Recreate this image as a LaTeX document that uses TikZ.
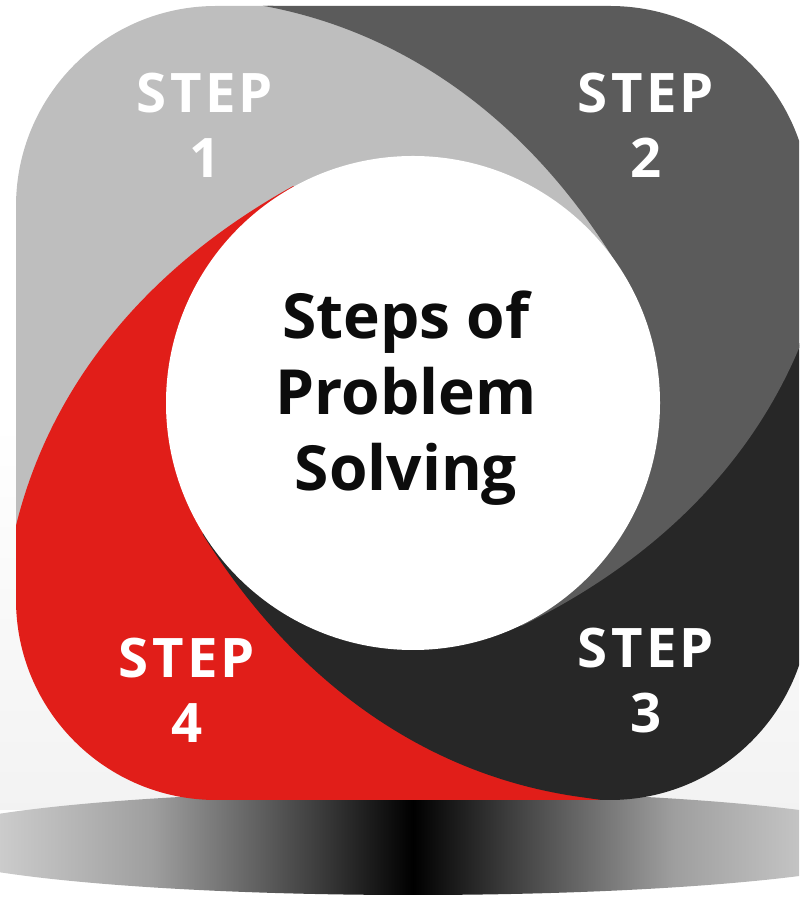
\documentclass[tikz,border=0pt]{standalone}
\usepackage{fontspec}
\setmainfont{Open Sans}
\usetikzlibrary{calc}
\definecolor{swgray}{RGB}{190,190,190}
\definecolor{swdark}{RGB}{91,91,91}
\definecolor{swblack}{RGB}{39,39,39}
\definecolor{swred}{RGB}{225,30,25}
\definecolor{swtext}{RGB}{12,12,12}

% floor shadow: dark in the middle, fading out to both sides
\pgfdeclarehorizontalshading{floorshade}{100bp}{color(0bp)=(black!10); color(25bp)=(black!10);
  color(37bp)=(black!38); color(45bp)=(black!75); color(50bp)=(black);
  color(55bp)=(black!75); color(63bp)=(black!38); color(75bp)=(black!10); color(100bp)=(black!10)}

% one blade of the swirl: inner arc from #1 to #2, out along the curve
% that leaves the disc at #2, round the far side, back in along the curve at #1
\newcommand{\bladepath}[2]{%
  ($(C)+(#1:247)$) arc[start angle=#1, end angle=#2, radius=247]
  .. controls ($(C)+(#2:247)+({#2+90}:180)$) and ($(C)+({#2+81}:427)+({#2-40}:150)$) .. ($(C)+({#2+81}:427)$)
  -- ($(C)+({#2+81}:427)+({#2+140}:250)$)
  -- ($(C)+({#2+100}:900)$) -- ($(C)+({#1+100}:900)$)
  -- ($(C)+({#1+81}:427)+({#1+140}:250)$) -- ($(C)+({#1+81}:427)$)
  .. controls ($(C)+({#1+81}:427)+({#1-40}:150)$) and ($(C)+(#1:247)+({#1+90}:180)$) .. ($(C)+(#1:247)$)
  -- cycle}

\begin{document}
\begin{tikzpicture}[
      x=0.01cm, y=0.01cm,
      piece/.style={fill=#1, draw=#1, line width=0.5pt, line join=round},
      steplabel/.style={text=white, align=center,
        font=\bfseries\fontsize{15.5}{18.5}\selectfont\addfontfeature{LetterSpace=6}},
      title/.style={text=swtext, align=center,
        font=\bfseries\fontsize{17.7}{21.6}\selectfont}
    ]
      \useasboundingbox (0,0) rectangle (799,900);
      \clip (0,0) rectangle (799,900);

      % Floor haze and shadow
      \shade[top color=white, bottom color=black!5] (0,90) rectangle (799,480);
      \shade[shading=floorshade] (413,57) ellipse [x radius=500, y radius=52];

      \coordinate (C) at (413,497);

      % Swirl blades inside the rounded frame
      \begin{scope}
        \clip[rounded corners=2cm] (16,100) rectangle (810,894);
        \path[piece=swgray] \bladepath{30}{119};
        \path[piece=swred] \bladepath{119}{212};
        \path[piece=swblack] \bladepath{212}{296};
        \path[piece=swdark] \bladepath{296}{390};
      \end{scope}

      % Centre disc
      \fill[white] (C) circle [radius=247];

      % Step labels
      \node[steplabel] (step1) at (205,775) {STEP\\1};
      \node[steplabel] (step2) at (646,775) {STEP\\2};
      \node[steplabel] (step3) at (646,219) {STEP\\3};
      \node[steplabel] (step4) at (187,210) {STEP\\4};

      % Title
      \node[title] (title) at (406,502) {Steps of\\Problem\\Solving};
    \end{tikzpicture}
\end{document}
